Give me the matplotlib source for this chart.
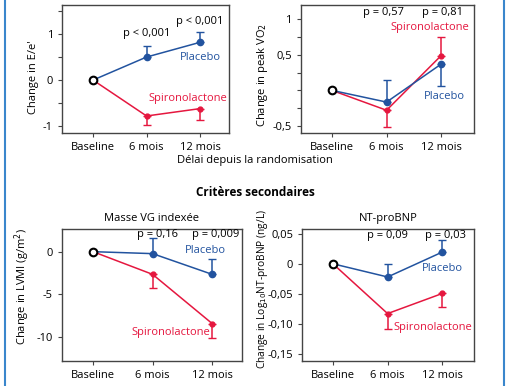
import matplotlib
matplotlib.use("Agg")
import matplotlib.pyplot as plt
from matplotlib.lines import Line2D

plt.rcParams["font.family"] = ["Open Sans", "DejaVu Sans"]

BLEU = "#22539f"
ROUGE = "#e5173f"

temps = ["Baseline", "6 mois", "12 mois"]
x = [0, 1, 2]

# E/e'
ee_placebo = [0, 0.50, 0.82]
ee_placebo_bas = [0, 0, 0]
ee_placebo_haut = [0, 0.23, 0.23]
ee_spiro = [0, -0.78, -0.62]
ee_spiro_bas = [0, 0.20, 0.25]
ee_spiro_haut = [0, 0, 0]
ee_p = ["p < 0,001", "p < 0,001"]

# pic de VO2
vo2_placebo = [0, -0.165, 0.37]
vo2_placebo_bas = [0, 0, 0.31]
vo2_placebo_haut = [0, 0.31, 0]
vo2_spiro = [0, -0.28, 0.49]
vo2_spiro_bas = [0, 0.23, 0]
vo2_spiro_haut = [0, 0, 0.26]
vo2_p = ["p = 0,57", "p = 0,81"]

# masse VG indexée
lvmi_placebo = [0, -0.23, -2.65]
lvmi_placebo_bas = [0, 0, 0]
lvmi_placebo_haut = [0, 1.83, 1.75]
lvmi_spiro = [0, -2.65, -8.4]
lvmi_spiro_bas = [0, 1.55, 1.65]
lvmi_spiro_haut = [0, 0, 0]
lvmi_p = ["p = 0,16", "p = 0,009"]

# NT-proBNP
bnp_placebo = [0, -0.022, 0.0195]
bnp_placebo_bas = [0, 0, 0]
bnp_placebo_haut = [0, 0.021, 0.0205]
bnp_spiro = [0, -0.083, -0.0495]
bnp_spiro_bas = [0, 0.025, 0.0225]
bnp_spiro_haut = [0, 0, 0]
bnp_p = ["p = 0,09", "p = 0,03"]


def panneau(ax, placebo, pl_bas, pl_haut, spiro, sp_bas, sp_haut, pvals, p_pos,
            pos_placebo, pos_spiro):
    ax.plot(x, spiro, color=ROUGE, lw=1.1, zorder=2)
    ax.errorbar(x[1:], spiro[1:], yerr=[sp_bas[1:], sp_haut[1:]], fmt="o", ms=3.5,
                color=ROUGE, ecolor=ROUGE, elinewidth=1.1, capsize=3, zorder=3)
    ax.plot(x, placebo, color=BLEU, lw=1.1, zorder=2)
    ax.errorbar(x[1:], placebo[1:], yerr=[pl_bas[1:], pl_haut[1:]], fmt="o", ms=4.5,
                color=BLEU, ecolor=BLEU, elinewidth=1.1, capsize=3, zorder=3)
    ax.plot([0], [0], "o", ms=5.5, mfc="white", mec="black", mew=1.5, zorder=4)
    for (px, py), txt in zip(p_pos, pvals):
        ax.text(px, py, txt, ha="center", va="center", fontsize=8)
    ax.text(*pos_placebo, "Placebo", color=BLEU, ha="center", va="center", fontsize=8)
    ax.text(*pos_spiro, "Spironolactone", color=ROUGE, ha="center", va="center", fontsize=8)
    ax.set_xticks(x)
    ax.set_xticklabels(temps, fontsize=8)
    for s in ax.spines.values():
        s.set_color("#444444")
        s.set_linewidth(1.0)
    ax.tick_params(direction="out", length=3, width=0.8, color="#444444", labelsize=8)


fig = plt.figure(figsize=(5.09, 3.86), dpi=100)

ax1 = fig.add_axes([0.1218, 0.6554, 0.328, 0.3316])
panneau(ax1, ee_placebo, ee_placebo_bas, ee_placebo_haut, ee_spiro, ee_spiro_bas,
        ee_spiro_haut, ee_p, [(1, 1.02), (2, 1.28)], (2.0, 0.48), (1.78, -0.39))
ax1.set_xlim(-0.58, 2.54)
ax1.set_ylim(-1.15, 1.63)
ax1.set_yticks([1.5, 1, 0.5, 0, -0.5, -1])
ax1.set_yticklabels(["", "1", "", "0", "", "-1"])
ax1.set_ylabel("Change in E/e'", fontsize=8)
ax1.yaxis.set_label_coords(-0.138, 0.44)

ax2 = fig.add_axes([0.5908, 0.6554, 0.3405, 0.3316])
panneau(ax2, vo2_placebo, vo2_placebo_bas, vo2_placebo_haut, vo2_spiro, vo2_spiro_bas,
        vo2_spiro_haut, vo2_p, [(0.95, 1.09), (2.03, 1.09)], (2.05, -0.09), (1.79, 0.88))
ax2.set_xlim(-0.57, 2.6)
ax2.set_ylim(-0.6, 1.2)
ax2.set_yticks([1, 0.75, 0.5, 0.25, 0, -0.25, -0.5])
ax2.set_yticklabels(["1", "", "0,5", "", "", "", "-0,5"])
ax2.set_ylabel("Change in peak VO$_2$", fontsize=8)
ax2.yaxis.set_label_coords(-0.177, 0.45)

ax3 = fig.add_axes([0.1218, 0.0648, 0.3536, 0.342])
panneau(ax3, lvmi_placebo, lvmi_placebo_bas, lvmi_placebo_haut, lvmi_spiro, lvmi_spiro_bas,
        lvmi_spiro_haut, lvmi_p, [(1.09, 1.95), (2.05, 1.95)], (1.88, 0.1), (1.31, -9.45))
ax3.set_xlim(-0.52, 2.5)
ax3.set_ylim(-12.77, 2.65)
ax3.set_yticks([0, -5, -10])
ax3.set_yticklabels(["0", "-5", "-10"])
ax3.set_ylabel("Change in LVMI (g/m$^2$)", fontsize=8)
ax3.yaxis.set_label_coords(-0.165, 0.56)
ax3.set_title("Masse VG indexée", fontsize=8, pad=6)

ax4 = fig.add_axes([0.5939, 0.0648, 0.3373, 0.342])
panneau(ax4, bnp_placebo, bnp_placebo_bas, bnp_placebo_haut, bnp_spiro, bnp_spiro_bas,
        bnp_spiro_haut, bnp_p, [(0.99, 0.047), (2.06, 0.047)], (2.0, -0.008), (1.83, -0.107))
ax4.set_xlim(-0.56, 2.58)
ax4.set_ylim(-0.162, 0.058)
ax4.set_yticks([0.05, 0, -0.05, -0.10, -0.15])
ax4.set_yticklabels(["0,05", "0", "-0,05", "-0,10", "-0,15"])
ax4.set_ylabel("Change in Log$_{10}$NT-proBNP (ng/L)", fontsize=7.3)
ax4.yaxis.set_label_coords(-0.188, 0.545)
ax4.set_title("NT-proBNP", fontsize=8, pad=6)

fig.text(0.501, 0.585, "Délai depuis la randomisation", ha="center", va="center", fontsize=8)
fig.text(0.501, 0.5, "Critères secondaires", ha="center", va="center", fontsize=8.5,
         fontweight="bold")

for xb in (4.5 / 509, 504 / 509):
    fig.add_artist(Line2D([xb, xb], [0, 1], color="#3a86cc", lw=1.5))

fig.savefig("out.png", dpi=100)
